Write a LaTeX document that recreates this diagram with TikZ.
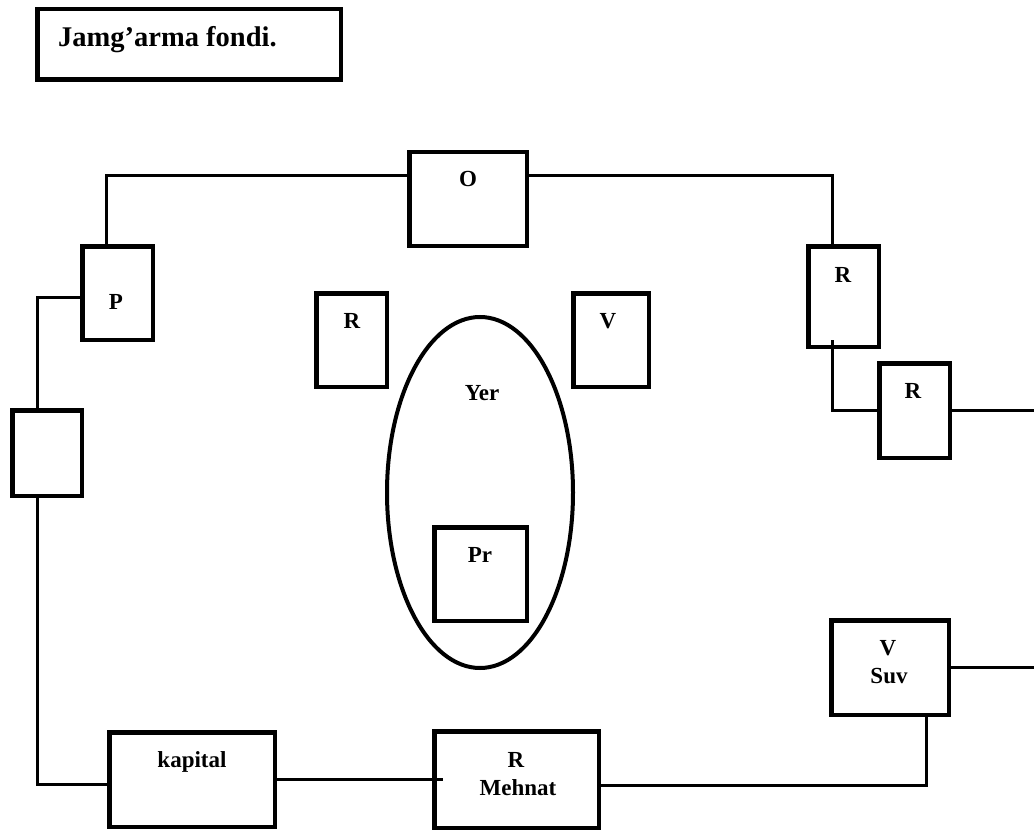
\documentclass[tikz,border=0pt]{standalone}
\usepackage{fontspec}
\setmainfont{Liberation Serif}
\usetikzlibrary{shapes.geometric}

\begin{document}
\begin{tikzpicture}[x=1pt, y=-1pt, every node/.style={font=\fontsize{23}{28}\selectfont\bfseries, inner sep=0pt},
	box/.style={draw, line width=4.5pt},
	link/.style={line width=3pt}]
	\useasboundingbox (0,0) rectangle (1034,832);
	\coordinate (rim) at (1034,0);
	% boxes
	\node[box, minimum width=303.5pt, minimum height=70.5pt] (fund) at (189,44.5) {};
	\node[box, minimum width=117.5pt, minimum height=93.5pt] (O) at (468,199) {};
	\node[box, minimum width=70.5pt, minimum height=93.5pt] (P) at (117.5,293) {};
	\node[box, minimum width=69.5pt, minimum height=85.5pt] (blank) at (47,453) {};
	\node[box, minimum width=70.5pt, minimum height=93.5pt] (Rl) at (351.5,340) {};
	\node[box, minimum width=75.5pt, minimum height=93.5pt] (V) at (611,340) {};
	\node[draw, line width=4pt, ellipse, minimum width=186pt, minimum height=351pt] (yer) at (480,492.5) {};
	\node[box, minimum width=92.5pt, minimum height=93.5pt] (Pr) at (480.5,574) {};
	\node[box, minimum width=70.5pt, minimum height=100.5pt] (Rr) at (843.5,296.5) {};
	\node[box, minimum width=70.5pt, minimum height=94.5pt] (Rd) at (914.5,410.5) {};
	\node[box, minimum width=117.5pt, minimum height=94.5pt] (suv) at (890,667.5) {};
	\node[box, minimum width=165.5pt, minimum height=94.5pt] (kap) at (192,779.5) {};
	\node[box, minimum width=164.5pt, minimum height=96.5pt] (meh) at (516.5,779.5) {};
	% labels
	\node[anchor=base west, font=\fontsize{28.5}{34}\selectfont\bfseries] at (58,47) {Jamg’arma fondi.};
	\node[anchor=base] at (468,186) {O};
	\node[anchor=base] at (116,309) {P};
	\node[anchor=base] at (352,328) {R};
	\node[anchor=base] at (608,328) {V};
	\node[anchor=base] at (482,400) {Yer};
	\node[anchor=base] at (480,562) {Pr};
	\node[anchor=base] at (843,282) {R};
	\node[anchor=base] at (913,398) {R};
	\node[anchor=base] at (888,655) {V};
	\node[anchor=base] at (889,683) {Suv};
	\node[anchor=base] at (192,767) {kapital};
	\node[anchor=base] at (516,767) {R};
	\node[anchor=base] at (518,795) {Mehnat};
	% connectors
	\draw[link] ([xshift=-11.5pt]P.north) |- ([yshift=23pt]O.west);
	\draw[link] ([yshift=23pt]O.east) -| ([xshift=-11.5pt]Rr.north);
	\draw[link] ([xshift=-11.5pt, yshift=9pt]Rr.south) |- (Rd.west);
	\draw[link] (Rd.east) -- (Rd.east -| rim);
	\draw[link] (suv.east) -- (suv.east -| rim);
	\draw[link] ([xshift=36pt]suv.south) |- ([yshift=-5.5pt]meh.east);
	\draw[link] (kap.east) -- ([xshift=11pt]meh.west);
	\draw[link] ([xshift=-10pt]blank.south) |- ([yshift=-4.5pt]kap.west);
	\draw[link] ([yshift=-4pt]P.west) -| ([xshift=-10pt, yshift=-5pt]blank.north);
\end{tikzpicture}
\end{document}
